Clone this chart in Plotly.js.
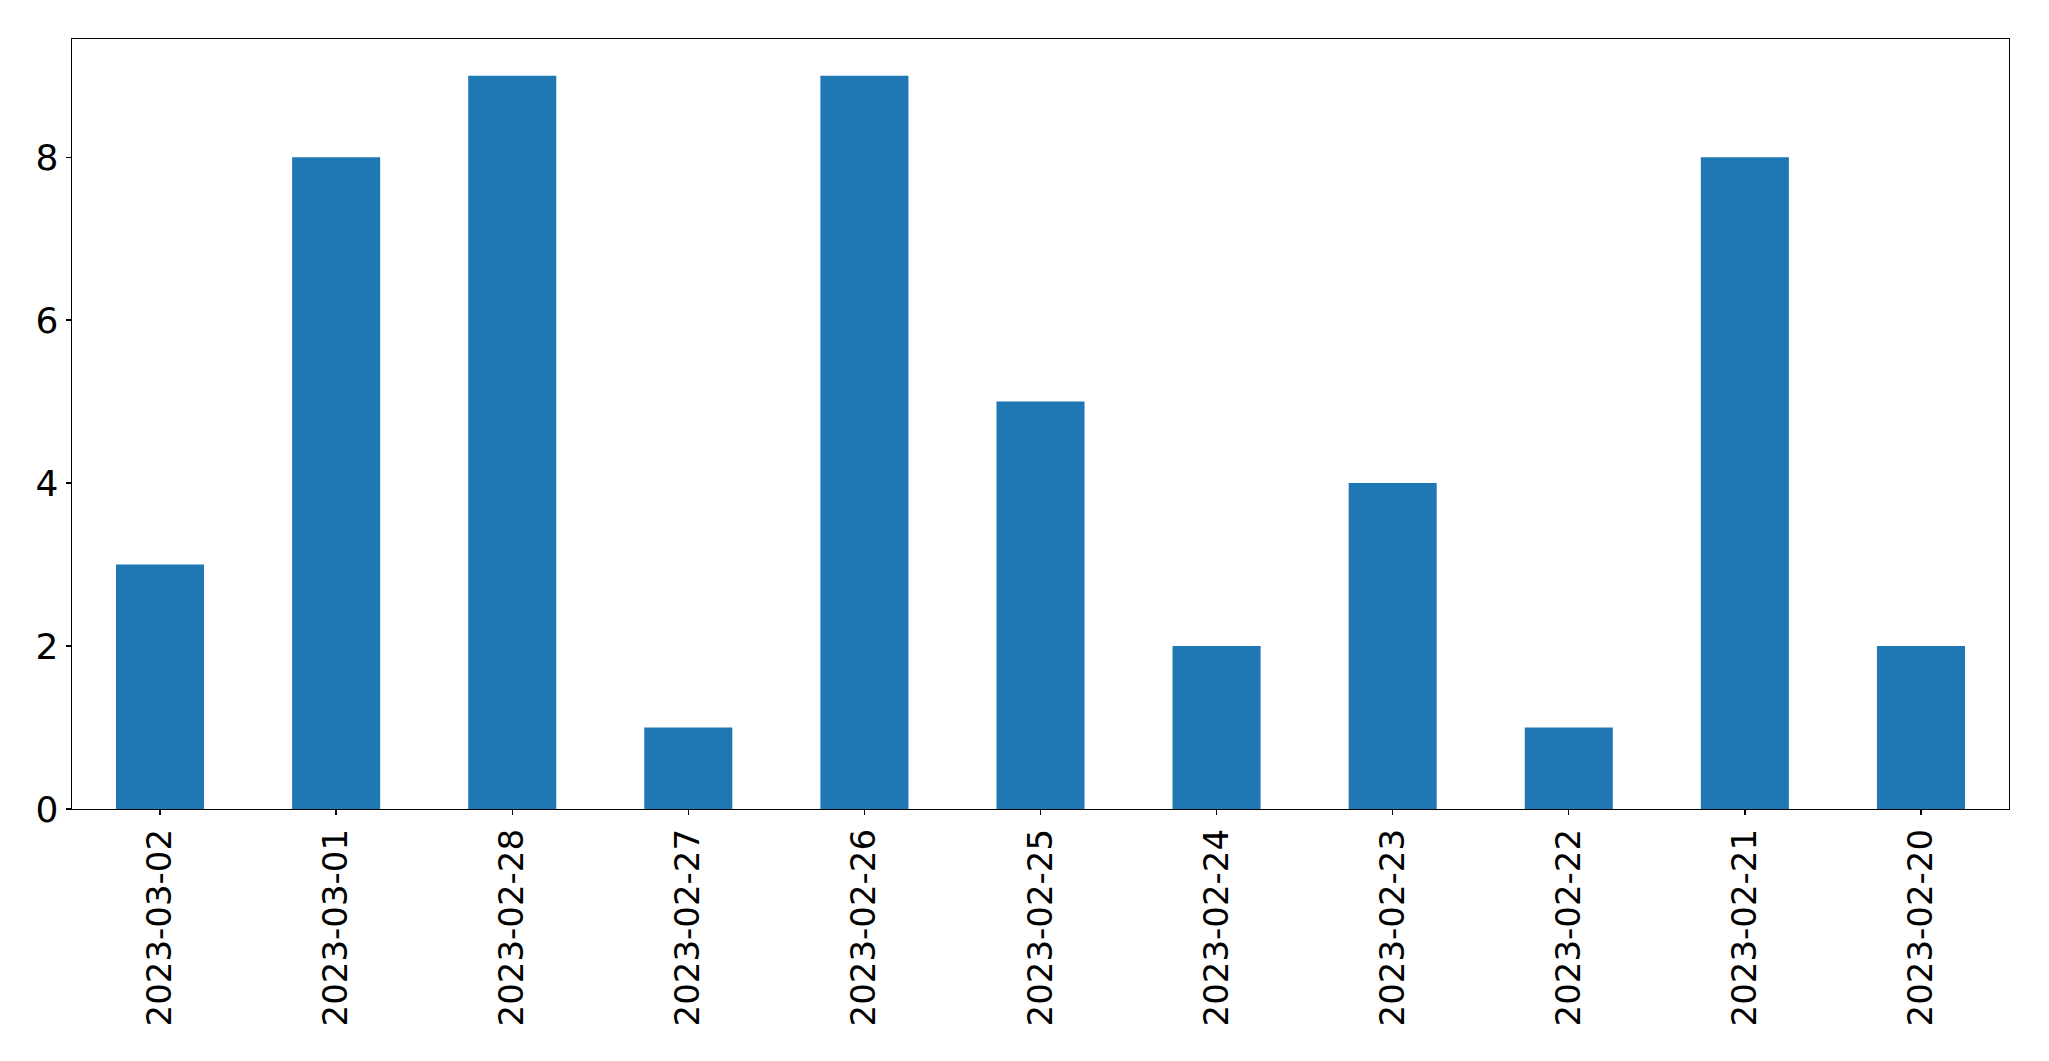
<!DOCTYPE html>
<html>
<head>
<meta charset="utf-8">
<script src="https://cdn.plot.ly/plotly-3.0.1.min.js"></script>
<style>html,body{margin:0;padding:0;background:#fff;}</style>
</head>
<body>
<div id="chart" style="width:2049px;height:1061px;"></div>
<script>
var categories = ["2023-03-02","2023-03-01","2023-02-28","2023-02-27","2023-02-26","2023-02-25","2023-02-24","2023-02-23","2023-02-22","2023-02-21","2023-02-20"];
var counts = [3, 8, 9, 1, 9, 5, 2, 4, 1, 8, 2];
var yTicks = [0, 2, 4, 6, 8];

var trace = {
  type: "bar",
  x: categories,
  y: counts,
  width: 0.5,
  marker: {color: "#1f77b4", line: {width: 0}},
  hoverinfo: "x+y"
};

var layout = {
  width: 2049,
  height: 1061,
  margin: {l: 72, r: 40, t: 39, b: 252, pad: 0},
  paper_bgcolor: "#ffffff",
  plot_bgcolor: "#ffffff",
  font: {family: "DejaVu Sans", size: 34, color: "#000000"},
  showlegend: false,
  bargap: 0.5,
  xaxis: {
    type: "category",
    range: [-0.5, 10.5],
    tickangle: -90,
    ticks: "outside",
    ticklen: 5,
    tickwidth: 1.3,
    tickcolor: "#000",
    showline: true,
    linecolor: "#000",
    linewidth: 1.3,
    mirror: true,
    showgrid: false,
    zeroline: false,
    tickfont: {family: "DejaVu Sans", size: 34, color: "#000"}
  },
  yaxis: {
    range: [0, 9.45],
    tickmode: "array",
    tickvals: yTicks,
    ticktext: yTicks.map(String),
    ticks: "outside",
    ticklen: 5,
    tickwidth: 1.3,
    tickcolor: "#000",
    showline: true,
    linecolor: "#000",
    linewidth: 1.3,
    mirror: true,
    showgrid: false,
    zeroline: false,
    tickfont: {family: "DejaVu Sans", size: 36, color: "#000"}
  }
};

Plotly.newPlot("chart", [trace], layout, {displayModeBar: false, staticPlot: true});
</script>
</body>
</html>
